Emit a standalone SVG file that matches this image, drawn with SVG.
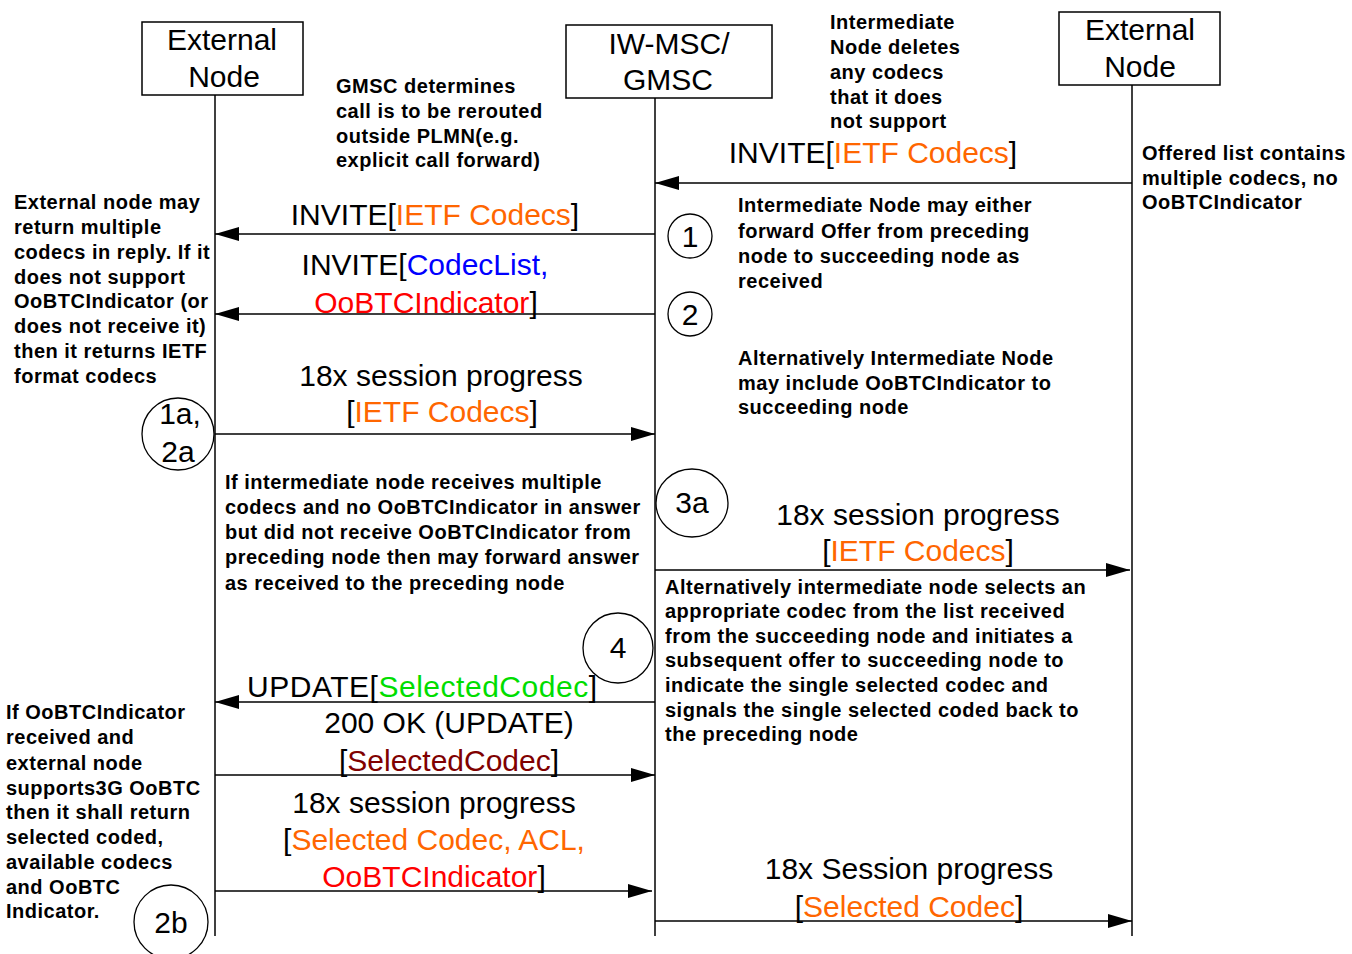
<svg xmlns="http://www.w3.org/2000/svg" width="1352" height="954" viewBox="0 0 1352 954">
<defs>
<marker id="ah" markerUnits="userSpaceOnUse" markerWidth="26" markerHeight="16" refX="24" refY="7" orient="auto">
<path d="M0,0 L24,7 L0,14 z" fill="#000"/>
</marker>
<style>
.box{fill:#fff;stroke:#000;stroke-width:1.5}
.life{stroke:#000;stroke-width:1.5;fill:none}
.msg{stroke:#000;stroke-width:1.5;fill:none;marker-end:url(#ah)}
.big{font-family:"Liberation Sans",Arial,sans-serif;font-size:30px;fill:#000}
.note{font-family:"Liberation Sans",Arial,sans-serif;font-size:20px;letter-spacing:0.5px;font-weight:bold;fill:#000}
.circ{fill:none;stroke:#000;stroke-width:1.3}
.or{fill:#FF6600}
.bl{fill:#0000FF}
.rd{fill:#FF0000}
.gr{fill:#00DD00}
.dr{fill:#800000}
</style>
</defs>
<rect width="1352" height="954" fill="#fff"/>

<g id="node-left">
<rect class="box" x="142" y="22" width="161" height="73"/>
<text class="big" x="222" y="50" text-anchor="middle">External</text>
<text class="big" x="224" y="87" text-anchor="middle">Node</text>
</g>
<g id="node-mid">
<rect class="box" x="566" y="25" width="206" height="73"/>
<text class="big" x="669" y="54" text-anchor="middle">IW-MSC/</text>
<text class="big" x="668" y="90" text-anchor="middle">GMSC</text>
</g>
<g id="node-right">
<rect class="box" x="1059" y="12" width="161" height="73"/>
<text class="big" x="1140" y="40" text-anchor="middle">External</text>
<text class="big" x="1140" y="77" text-anchor="middle">Node</text>
</g>

<g id="connectors">
<line class="life" x1="215" y1="95" x2="215" y2="936"/>
<line class="life" x1="655" y1="98" x2="655" y2="936"/>
<line class="life" x1="1132" y1="85" x2="1132" y2="936"/>
<line class="msg" x1="1132" y1="183" x2="655" y2="183"/>
<line class="msg" x1="655" y1="234" x2="215" y2="234"/>
<line class="msg" x1="655" y1="314" x2="215" y2="314"/>
<line class="msg" x1="215" y1="434" x2="655" y2="434"/>
<line class="msg" x1="655" y1="570" x2="1130" y2="570"/>
<line class="msg" x1="655" y1="702" x2="215" y2="702"/>
<line class="msg" x1="215" y1="775" x2="655" y2="775"/>
<line class="msg" x1="215" y1="891" x2="652" y2="891"/>
<line class="msg" x1="655" y1="921" x2="1132" y2="921"/>
</g>

<g id="labels">
<text class="big" x="873" y="163" text-anchor="middle">INVITE[<tspan class="or">IETF Codecs</tspan>]</text>
<text class="big" x="435" y="225" text-anchor="middle">INVITE[<tspan class="or">IETF Codecs</tspan>]</text>
<text class="big" x="425" y="275" text-anchor="middle">INVITE[<tspan class="bl">CodecList,</tspan></text>
<text class="big" x="426" y="313" text-anchor="middle"><tspan class="rd">OoBTCIndicator</tspan>]</text>
<text class="big" x="441" y="386" text-anchor="middle">18x session progress</text>
<text class="big" x="442" y="422" text-anchor="middle">[<tspan class="or">IETF Codecs</tspan>]</text>
<text class="big" x="918" y="525" text-anchor="middle">18x session progress</text>
<text class="big" x="918" y="561" text-anchor="middle">[<tspan class="or">IETF Codecs</tspan>]</text>
<text class="big" x="247" y="697" textLength="350">UPDATE[<tspan class="gr">SelectedCodec</tspan>]</text>
<text class="big" x="449" y="733" text-anchor="middle">200 OK (UPDATE)</text>
<text class="big" x="449" y="771" text-anchor="middle">[<tspan class="dr">SelectedCodec</tspan>]</text>
<text class="big" x="434" y="813" text-anchor="middle">18x session progress</text>
<text class="big" x="434" y="850" text-anchor="middle">[<tspan class="or">Selected Codec, ACL,</tspan></text>
<text class="big" x="434" y="887" text-anchor="middle"><tspan class="rd">OoBTCIndicator</tspan>]</text>
<text class="big" x="909" y="879" text-anchor="middle">18x Session progress</text>
<text class="big" x="909" y="917" text-anchor="middle">[<tspan class="or">Selected Codec</tspan>]</text>
</g>

<g id="step-1">
<circle class="circ" cx="690" cy="236" r="22"/>
<text class="big" x="690" y="247" text-anchor="middle">1</text>
</g>
<g id="step-2">
<circle class="circ" cx="690" cy="314" r="22"/>
<text class="big" x="690" y="325" text-anchor="middle">2</text>
</g>
<g id="step-1a2a">
<circle class="circ" cx="178" cy="434" r="36"/>
<text class="big" x="180" y="424" text-anchor="middle">1a,</text>
<text class="big" x="178" y="462" text-anchor="middle">2a</text>
</g>
<g id="step-3a">
<ellipse class="circ" cx="692" cy="503" rx="36" ry="34"/>
<text class="big" x="692" y="513" text-anchor="middle">3a</text>
</g>
<g id="step-4">
<circle class="circ" cx="618" cy="648" r="35"/>
<text class="big" x="618" y="658" text-anchor="middle">4</text>
</g>
<g id="step-2b">
<circle class="circ" cx="171" cy="922" r="37"/>
<text class="big" x="171" y="933" text-anchor="middle">2b</text>
</g>

<g id="note-gmsc">
<text class="note" x="336" y="93">GMSC determines</text>
<text class="note" x="336" y="118">call is to be rerouted</text>
<text class="note" x="336" y="143">outside PLMN(e.g.</text>
<text class="note" x="336" y="167">explicit call forward)</text>
</g>
<g id="note-deletes">
<text class="note" x="830" y="29">Intermediate</text>
<text class="note" x="830" y="54">Node deletes</text>
<text class="note" x="830" y="79">any codecs</text>
<text class="note" x="830" y="104">that it does</text>
<text class="note" x="830" y="128">not support</text>
</g>
<g id="note-offered">
<text class="note" x="1142" y="160">Offered list contains</text>
<text class="note" x="1142" y="185">multiple codecs, no</text>
<text class="note" x="1142" y="209">OoBTCIndicator</text>
</g>
<g id="note-external">
<text class="note" x="14" y="209">External node may</text>
<text class="note" x="14" y="234">return multiple</text>
<text class="note" x="14" y="259">codecs in reply. If it</text>
<text class="note" x="14" y="284">does not support</text>
<text class="note" x="14" y="308">OoBTCIndicator (or</text>
<text class="note" x="14" y="333">does not receive it)</text>
<text class="note" x="14" y="358">then it returns IETF</text>
<text class="note" x="14" y="383">format codecs</text>
</g>
<g id="note-forward">
<text class="note" x="738" y="212">Intermediate Node may either</text>
<text class="note" x="738" y="238">forward Offer from preceding</text>
<text class="note" x="738" y="263">node to succeeding node as</text>
<text class="note" x="738" y="288">received</text>
</g>
<g id="note-alt1">
<text class="note" x="738" y="365">Alternatively Intermediate Node</text>
<text class="note" x="738" y="390">may include OoBTCIndicator to</text>
<text class="note" x="738" y="414">succeeding node</text>
</g>
<g id="note-multiple">
<text class="note" x="225" y="489">If intermediate node receives multiple</text>
<text class="note" x="225" y="514">codecs and no OoBTCIndicator in answer</text>
<text class="note" x="225" y="539">but did not receive OoBTCIndicator from</text>
<text class="note" x="225" y="564">preceding node then may forward answer</text>
<text class="note" x="225" y="590">as received to the preceding node</text>
</g>
<g id="note-alt2">
<text class="note" x="665" y="594">Alternatively intermediate node selects an</text>
<text class="note" x="665" y="618">appropriate codec from the list received</text>
<text class="note" x="665" y="643">from the succeeding node and initiates a</text>
<text class="note" x="665" y="667">subsequent offer to succeeding node to</text>
<text class="note" x="665" y="692">indicate the single selected codec and</text>
<text class="note" x="665" y="717">signals the single selected coded back to</text>
<text class="note" x="665" y="741">the preceding node</text>
</g>
<g id="note-oobtc">
<text class="note" x="6" y="719">If OoBTCIndicator</text>
<text class="note" x="6" y="744">received and</text>
<text class="note" x="6" y="770">external node</text>
<text class="note" x="6" y="795">supports3G OoBTC</text>
<text class="note" x="6" y="819">then it shall return</text>
<text class="note" x="6" y="844">selected coded,</text>
<text class="note" x="6" y="869">available codecs</text>
<text class="note" x="6" y="894">and OoBTC</text>
<text class="note" x="6" y="918">Indicator.</text>
</g>
</svg>
